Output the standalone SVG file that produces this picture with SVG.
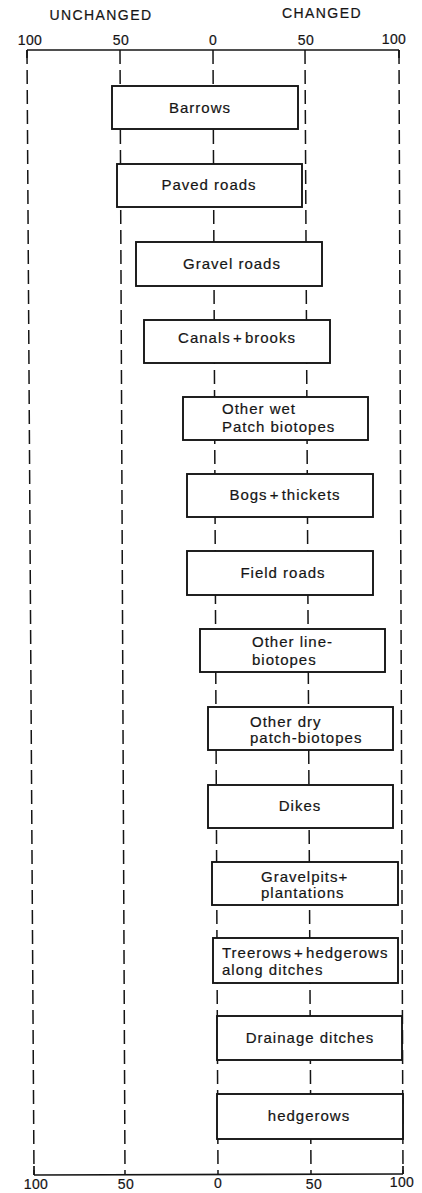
<svg xmlns="http://www.w3.org/2000/svg" width="422" height="1193" viewBox="0 0 422 1193">
<style>
  .bg{fill:#fff}
  .grid{stroke:#151515;stroke-width:1.5;stroke-dasharray:14 6;fill:none}
  .axis{stroke:#151515;stroke-width:1.7;fill:none}
  .box{fill:#fff;stroke:#151515;stroke-width:1.9}
  .lbl{font-family:"Liberation Sans",Arial,sans-serif;font-size:15px;letter-spacing:1px;fill:#151515;stroke:#151515;stroke-width:0.2}
  .plus{word-spacing:-3px}
  .c{text-anchor:middle}
  .hdr{font-family:"Liberation Sans",Arial,sans-serif;font-size:14px;letter-spacing:1.4px;fill:#151515;stroke:#151515;stroke-width:0.2;text-anchor:middle}
  .num{font-family:"Liberation Sans",Arial,sans-serif;font-size:14px;letter-spacing:0.4px;fill:#151515;stroke:#151515;stroke-width:0.2;text-anchor:middle}
</style>
<rect class="bg" x="0" y="0" width="422" height="1193"/>
<g id="header">
  <text class="hdr" x="101" y="20">UNCHANGED</text>
  <text class="hdr" x="322" y="18">CHANGED</text>
  <text class="num" x="30" y="45">100</text>
  <text class="num" x="121" y="45">50</text>
  <text class="num" x="213" y="45">0</text>
  <text class="num" x="306" y="45">50</text>
  <text class="num" x="394" y="44">100</text>
</g>
<g id="connectors">
  <line class="axis" x1="27" y1="50" x2="399" y2="50"/>
  <line class="axis" x1="27" y1="50" x2="27" y2="58"/>
  <line class="axis" x1="399" y1="50" x2="399" y2="58"/>
  <line class="grid" x1="27" y1="50" x2="34" y2="1175"/>
  <line class="grid" x1="120" y1="50" x2="125" y2="1175"/>
  <line class="grid" x1="213" y1="50" x2="218" y2="1175"/>
  <line class="grid" x1="305" y1="50" x2="311" y2="1175"/>
  <line class="grid" x1="399" y1="50" x2="403" y2="1174"/>
  <line class="axis" x1="34" y1="1175" x2="403" y2="1174"/>
  <line class="axis" x1="34" y1="1166" x2="34" y2="1175"/>
  <line class="axis" x1="403" y1="1166" x2="403" y2="1174"/>
</g>
<g id="bottom-scale">
  <text class="num" x="36" y="1189">100</text>
  <text class="num" x="126" y="1189">50</text>
  <text class="num" x="218" y="1188">0</text>
  <text class="num" x="314" y="1189">50</text>
  <text class="num" x="402" y="1187">100</text>
</g>
<g id="barrows">
  <rect class="box" x="112" y="86" width="186" height="43"/>
  <text class="lbl c" x="200" y="113">Barrows</text>
</g>
<g id="paved-roads">
  <rect class="box" x="117" y="164" width="185" height="43"/>
  <text class="lbl c" x="209" y="190">Paved roads</text>
</g>
<g id="gravel-roads">
  <rect class="box" x="136" y="242" width="186" height="44"/>
  <text class="lbl c" x="232" y="269">Gravel roads</text>
</g>
<g id="canals-brooks">
  <rect class="box" x="144" y="320" width="186" height="43"/>
  <text class="lbl c plus" x="237" y="343">Canals + brooks</text>
</g>
<g id="other-wet-patch-biotopes">
  <rect class="box" x="183" y="397" width="185" height="43"/>
  <text class="lbl" x="222" y="414">Other wet</text>
  <text class="lbl" x="222" y="432">Patch biotopes</text>
</g>
<g id="bogs-thickets">
  <rect class="box" x="187" y="474" width="186" height="43"/>
  <text class="lbl c plus" x="285" y="500">Bogs + thickets</text>
</g>
<g id="field-roads">
  <rect class="box" x="187" y="551" width="186" height="44"/>
  <text class="lbl c" x="283" y="578">Field roads</text>
</g>
<g id="other-line-biotopes">
  <rect class="box" x="200" y="629" width="185" height="43"/>
  <text class="lbl" x="252" y="647">Other line-</text>
  <text class="lbl" x="252" y="665">biotopes</text>
</g>
<g id="other-dry-patch-biotopes">
  <rect class="box" x="208" y="707" width="185" height="43"/>
  <text class="lbl" x="250" y="727">Other dry</text>
  <text class="lbl" x="250" y="743">patch-biotopes</text>
</g>
<g id="dikes">
  <rect class="box" x="208" y="785" width="185" height="43"/>
  <text class="lbl c" x="300" y="811">Dikes</text>
</g>
<g id="gravelpits-plantations">
  <rect class="box" x="212" y="862" width="186" height="43"/>
  <text class="lbl" x="261" y="882">Gravelpits+</text>
  <text class="lbl" x="261" y="898">plantations</text>
</g>
<g id="treerows-hedgerows">
  <rect class="box" x="213" y="938" width="185" height="45"/>
  <text class="lbl plus" x="222" y="958">Treerows + hedgerows</text>
  <text class="lbl" x="222" y="975">along ditches</text>
</g>
<g id="drainage-ditches">
  <rect class="box" x="217" y="1016" width="185" height="44"/>
  <text class="lbl c" x="310" y="1043">Drainage ditches</text>
</g>
<g id="hedgerows">
  <rect class="box" x="217" y="1094" width="186" height="45"/>
  <text class="lbl c" x="309" y="1121">hedgerows</text>
</g>
</svg>
